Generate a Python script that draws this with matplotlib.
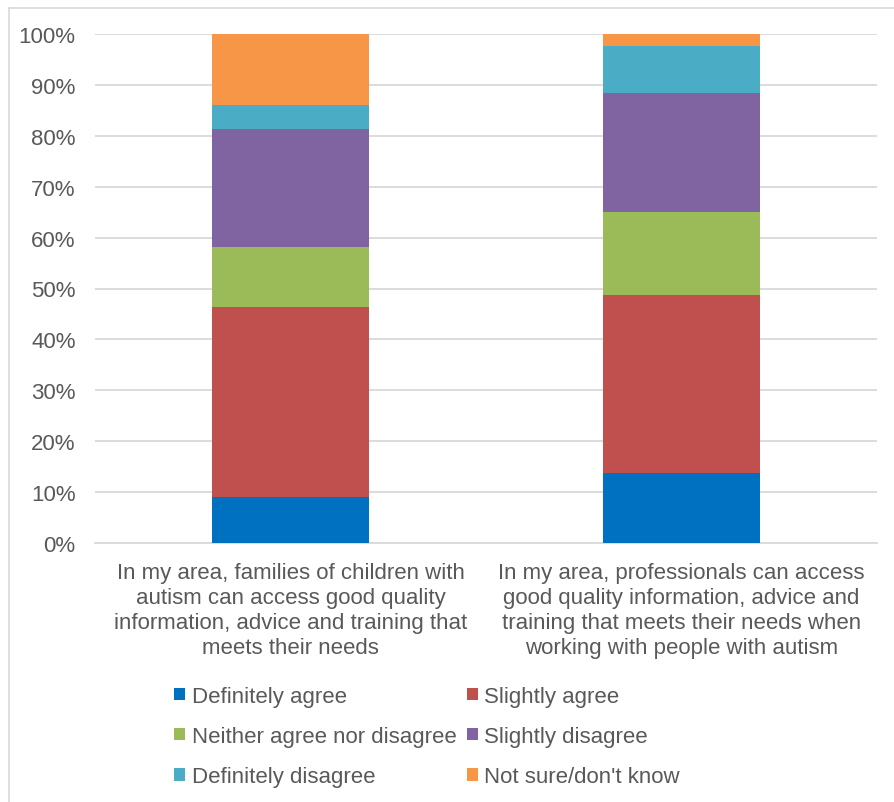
import matplotlib
matplotlib.use("Agg")
import matplotlib.pyplot as plt
from matplotlib.lines import Line2D
import numpy as np

categories = [
    "In my area, families of children with\nautism can access good quality\ninformation, advice and training that\nmeets their needs",
    "In my area, professionals can access\ngood quality information, advice and\ntraining that meets their needs when\nworking with people with autism",
]
series_names = ["Definitely agree", "Slightly agree", "Neither agree nor disagree",
                "Slightly disagree", "Definitely disagree", "Not sure/don't know"]
definitely_agree = [9.0, 13.8]
slightly_agree = [37.4, 35.0]
neither = [11.8, 16.2]
slightly_disagree = [23.2, 23.5]
definitely_disagree = [4.7, 9.1]
not_sure = [13.9, 2.4]
series_values = [definitely_agree, slightly_agree, neither,
                 slightly_disagree, definitely_disagree, not_sure]
colors = ["#0070C0", "#C0504D", "#9BBB59", "#8064A2", "#4BACC6", "#F79646"]
yticks = [0, 10, 20, 30, 40, 50, 60, 70, 80, 90, 100]
ytick_labels = [f"{v}%" for v in yticks]

plt.rcParams['font.family'] = ['Liberation Sans', 'DejaVu Sans']
text_color = "#595959"

W, H = 895, 803
fig = plt.figure(figsize=(W / 100, H / 100), dpi=100)
ax = fig.add_axes([95 / W, 1 - 544 / H, (877 - 95) / W, (544 - 35) / H])

x = np.arange(len(categories))
bottom = np.zeros(len(categories))
handles = []
for name, vals, c in zip(series_names, series_values, colors):
    b = ax.bar(x, vals, width=0.4, bottom=bottom, color=c, label=name, zorder=3)
    handles.append(b)
    bottom = bottom + np.array(vals)

ax.set_xlim(-0.5, 1.5)
ax.set_ylim(0, 100)
ax.set_yticks(yticks)
ax.set_yticklabels(ytick_labels)
ax.set_xticks(x)
ax.set_xticklabels(categories, linespacing=1.24)
ax.tick_params(axis='both', length=0, labelsize=16, colors=text_color)
ax.tick_params(axis='y', pad=14)
ax.tick_params(axis='x', pad=14)
ax.grid(axis='y', color="#D9D9D9", linewidth=1.3, zorder=0)
for s in ['top', 'right', 'left']:
    ax.spines[s].set_visible(False)
ax.spines['bottom'].set_color("#D9D9D9")
ax.spines['bottom'].set_linewidth(1.3)

order = [0, 2, 4, 1, 3, 5]
leg = fig.legend([handles[i] for i in order], [series_names[i] for i in order],
                 ncol=2, loc='upper left', bbox_to_anchor=(165 / W, 1 - 678 / H),
                 frameon=False, fontsize=16, handlelength=0.5, handleheight=0.5,
                 handletextpad=0.3, columnspacing=0.46, labelspacing=0.86,
                 labelcolor=text_color, borderaxespad=0)

border = "#D9D9D9"
fig.add_artist(Line2D([8.5 / W, 1], [1 - 8.5 / H, 1 - 8.5 / H],
                      transform=fig.transFigure, color=border, linewidth=1.2))
fig.add_artist(Line2D([8.5 / W, 8.5 / W], [0, 1 - 8.5 / H],
                      transform=fig.transFigure, color=border, linewidth=1.2))

fig.savefig("out.png", dpi=100)
